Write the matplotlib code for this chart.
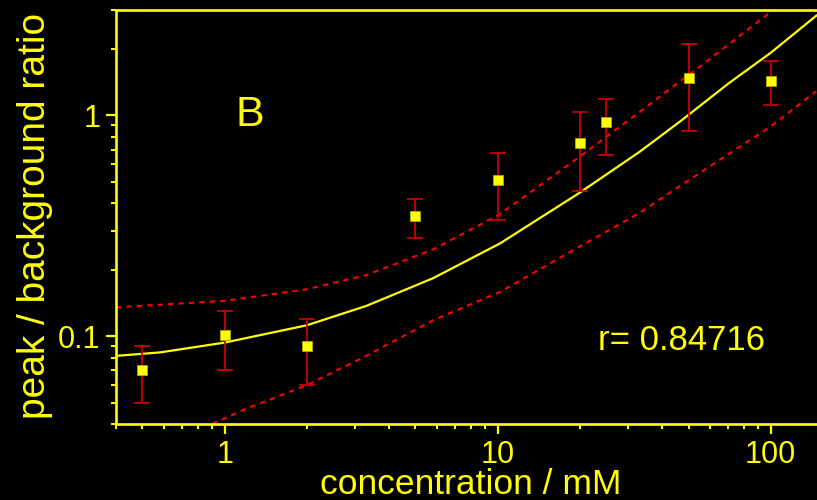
import matplotlib
matplotlib.use("Agg")
import matplotlib.pyplot as plt
from matplotlib.ticker import LogLocator, NullFormatter, FixedLocator, FixedFormatter
import numpy as np

# ---- data ----
conc = [0.5, 1, 2, 5, 10, 20, 25, 50, 100]
ratio = [0.070, 0.101, 0.090, 0.349, 0.51, 0.752, 0.933, 1.475, 1.436]
err_hi = [0.090, 0.130, 0.120, 0.417, 0.675, 1.04, 1.19, 2.10, 1.755]
err_lo = [0.050, 0.070, 0.060, 0.278, 0.335, 0.456, 0.659, 0.849, 1.11]

fit_x = [0.4, 0.58, 1, 2, 3.3, 5.8, 10.2, 19.9, 33, 46.3, 69.8, 100, 147]
fit_y = [0.0814, 0.0844, 0.0935, 0.112, 0.137, 0.183, 0.263, 0.445, 0.682, 0.933, 1.39, 1.92, 2.83]

upper_x = [0.4, 1, 2, 3.3, 5.8, 10.2, 19.9, 33, 46.3, 58.3, 76.8, 101.8]
upper_y = [0.135, 0.1445, 0.163, 0.189, 0.247, 0.357, 0.648, 1.032, 1.42, 1.755, 2.287, 2.99]

lower_x = [0.9, 1.17, 2, 3.3, 5.8, 10.2, 19.9, 33, 46.3, 69.8, 99.3, 146.6]
lower_y = [0.04, 0.0463, 0.060, 0.0814, 0.118, 0.1586, 0.254, 0.361, 0.477, 0.666, 0.885, 1.284]

x_ticks = [1, 10, 100]
x_tick_labels = ["1", "10", "100"]
y_ticks = [0.1, 1]
y_tick_labels = ["0.1", "1"]

panel_label = "B"
r_text = "r= 0.84716"
x_label = "concentration / mM"
y_label = "peak / background ratio"

YEL = "#ffff00"
ERR_RED = "#c80000"
BAND_RED = "#ff0000"
FONT = ["Liberation Sans", "DejaVu Sans"]

fig = plt.figure(figsize=(8.17, 5.0), dpi=100, facecolor="black")
ax = fig.add_axes([116 / 817, 0.152, 1.0022 - 116 / 817, 0.98 - 0.152])
ax.set_facecolor("black")
ax.set_xscale("log")
ax.set_yscale("log")
ax.set_xlim(0.4, 150)
ax.set_ylim(0.04, 3.0)

# bands and fit
ax.plot(upper_x, upper_y, color=BAND_RED, lw=1.5, dashes=(2.6, 2.4), zorder=2)
ax.plot(lower_x, lower_y, color=BAND_RED, lw=1.5, dashes=(2.6, 2.4), zorder=2)
ax.plot(fit_x, fit_y, color=YEL, lw=1.6, zorder=3)

# data with error bars
c = np.array(conc)
r = np.array(ratio)
yerr = np.vstack([r - np.array(err_lo), np.array(err_hi) - r])
ax.errorbar(c, r, yerr=yerr, fmt="none", ecolor=ERR_RED, elinewidth=1.3,
            capsize=5.6, capthick=1.3, zorder=4)
ax.plot(c, r, ls="none", marker="s", ms=6.6, mfc=YEL, mec="#b0b000", mew=0.6, zorder=5)

# spines
for side in ["left", "bottom", "top"]:
    ax.spines[side].set_color(YEL)
    ax.spines[side].set_linewidth(1.9)
ax.spines["right"].set_visible(False)

# ticks
ax.xaxis.set_major_locator(FixedLocator(x_ticks))
ax.xaxis.set_major_formatter(FixedFormatter(x_tick_labels))
ax.yaxis.set_major_locator(FixedLocator(y_ticks))
ax.yaxis.set_major_formatter(FixedFormatter(y_tick_labels))
ax.xaxis.set_minor_locator(LogLocator(base=10, subs=np.arange(2, 10), numticks=20))
ax.yaxis.set_minor_locator(LogLocator(base=10, subs=np.arange(2, 10), numticks=20))
ax.xaxis.set_minor_formatter(NullFormatter())
ax.yaxis.set_minor_formatter(NullFormatter())
ax.tick_params(which="both", direction="out", colors=YEL, top=False, right=False)
ax.tick_params(which="major", length=7.2, width=1.6, pad=4)
ax.tick_params(which="minor", length=3.8, width=1.4)
for lab in ax.get_xticklabels() + ax.get_yticklabels():
    lab.set_fontfamily(FONT)
    lab.set_fontsize(22)
    lab.set_color(YEL)

# annotations
ax.text(1.097, 0.892, panel_label, color=YEL, fontsize=31, family=FONT,
        ha="left", va="baseline", zorder=6)
ax.text(23.4, 0.0864, r_text, color=YEL, fontsize=25, family=FONT,
        ha="left", va="baseline", zorder=6)

fig.text(470.5 / 817, 0.012, x_label, color=YEL, fontsize=25.5, family=FONT,
         ha="center", va="baseline")
fig.text(45 / 817, (500 - 215.5) / 500, y_label, color=YEL, fontsize=28, family=FONT,
         rotation=90, rotation_mode="anchor", ha="center", va="baseline")

fig.savefig("out.png", dpi=100, facecolor="black")
